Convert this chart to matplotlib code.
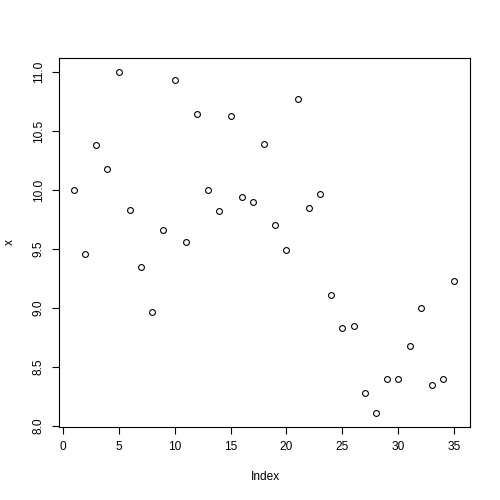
import matplotlib
matplotlib.use("Agg")
import matplotlib.pyplot as plt
import numpy as np

# Data (R-style index plot)
index = np.arange(1, 36)
x = [10.00, 9.46, 10.38, 10.18, 11.00, 9.83, 9.35, 8.97, 9.66, 10.93,
     9.56, 10.64, 10.00, 9.82, 10.63, 9.94, 9.90, 10.39, 9.70, 9.49,
     10.77, 9.85, 9.97, 9.11, 8.83, 8.85, 8.28, 8.11, 8.40, 8.40,
     8.68, 9.00, 8.35, 8.40, 9.23]
xticks = [0, 5, 10, 15, 20, 25, 30, 35]
yticks = [8.0, 8.5, 9.0, 9.5, 10.0, 10.5, 11.0]

plt.rcParams["font.family"] = ["Liberation Sans", "DejaVu Sans"]

fig = plt.figure(figsize=(5, 5), dpi=100)
ax = fig.add_axes([0.1174, 0.1466, 0.8216, 0.7368])

ax.plot(index, x, linestyle="none", marker="o", markersize=4.2,
        markerfacecolor="none", markeredgecolor="black", markeredgewidth=0.8)

# R pads ranges by 4% on each side
def padded(lo, hi):
    d = (hi - lo) * 0.04
    return lo - d, hi + d

ax.set_xlim(*padded(min(index), max(index)))
ax.set_ylim(*padded(min(x), max(x)))

ax.set_xticks(xticks)
ax.set_xticklabels([str(t) for t in xticks])
ax.set_yticks(yticks)
ax.set_yticklabels(["%.1f" % t for t in yticks], rotation=90, va="center")

ax.tick_params(direction="out", length=5, width=0.8, labelsize=8.6, pad=5)
for s in ax.spines.values():
    s.set_linewidth(0.8)

fig.text(0.3 / 5 * 0 + 0.530, 1 - 476.7 / 500, "Index", ha="center", va="center", fontsize=8.6)
fig.text(10 / 500, 1 - 242 / 500, "x", ha="center", va="center", rotation=90, fontsize=8.6)

fig.savefig("out.png", dpi=100)
